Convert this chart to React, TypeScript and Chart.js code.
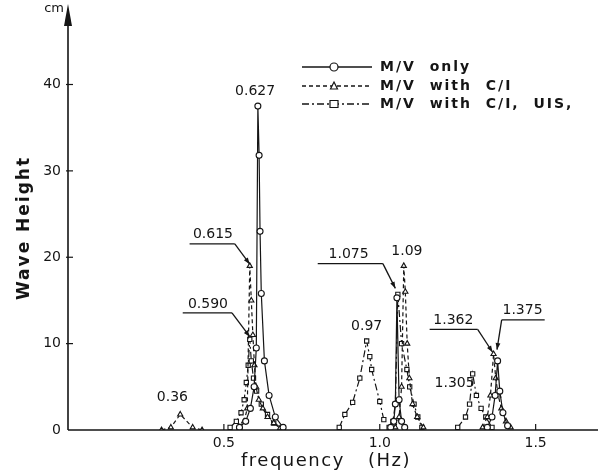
import React, { useEffect, useRef } from "react";
import { Chart, registerables } from "chart.js";

Chart.register(...registerables);

const seriesNames = ["M/V only", "M/V with C/I", "M/V with C/I, UIS,"];

// M/V only (circles, solid)
const mvOnlyFreq = [0.55, 0.57, 0.585, 0.597, 0.604, 0.609, 0.613, 0.616, 0.62, 0.63, 0.645, 0.665, 0.69, 0.8,
  1.035, 1.045, 1.05, 1.055, 1.062, 1.07, 1.08, 1.2,
  1.345, 1.36, 1.37, 1.378, 1.385, 1.395, 1.41];
const mvOnlyHeight = [0.3, 1, 2.5, 5, 9.5, 37.5, 31.8, 23, 15.8, 8, 4, 1.5, 0.3, null,
  0.3, 1, 3, 15.3, 3.5, 1, 0.3, null,
  0.3, 1.5, 4, 8, 4.5, 2, 0.5];

// M/V with C/I (triangles, dashed)
const ciFreq = [0.3, 0.33, 0.36, 0.4, 0.43, 0.5,
  0.55, 0.565, 0.575, 0.583, 0.588, 0.593, 0.598, 0.603, 0.612, 0.625, 0.64, 0.66, 0.68, 0.8,
  1.05, 1.062, 1.07, 1.077, 1.082, 1.088, 1.095, 1.105, 1.12, 1.14, 1.2,
  1.33, 1.345, 1.355, 1.365, 1.372, 1.38, 1.39, 1.405, 1.42];
const ciHeight = [0, 0.3, 1.8, 0.3, 0, null,
  0.3, 1, 2.5, 19, 15, 11, 7.5, 5, 3.5, 2.5, 1.5, 0.8, 0.2, null,
  0.3, 1.5, 5, 19, 16, 10, 6, 3, 1.5, 0.3, null,
  0.3, 1.5, 4, 8.8, 6, 4, 2.5, 1, 0.3];

// M/V with C/I, UIS (squares, dash-dot)
const uisFreq = [0.52, 0.54, 0.555, 0.565, 0.572, 0.578, 0.583, 0.588, 0.595, 0.605, 0.62, 0.64, 0.66, 0.69, 0.8,
  0.87, 0.888, 0.913, 0.936, 0.958, 0.968, 0.974, 1.0, 1.013, 1.02,
  1.03, 1.042, 1.05, 1.058, 1.07, 1.087, 1.096, 1.11, 1.122, 1.135, 1.2,
  1.25, 1.275, 1.288, 1.298, 1.31, 1.325, 1.34, 1.36];
const uisHeight = [0.3, 1, 2, 3.5, 5.5, 7.5, 10.5, 8, 6, 4.5, 3, 1.8, 0.8, 0.2, null,
  0.3, 1.8, 3.2, 6, 10.3, 8.5, 7, 3.3, 1.2, null,
  0.3, 1, 3, 15.7, 10, 7, 5, 3, 1.5, 0.3, null,
  0.3, 1.5, 3, 6.5, 4, 2.5, 1.5, 0.3];

const xTickValues = [0, 0.5, 1.0, 1.5];
const yTickValues = [0, 10, 20, 30, 40];

// peak annotations: text, label centre (data units), optional underline and leader target
const peakNotes = [
  { text: "0.627", x: 0.60, y: 39.2 },
  { text: "0.615", x: 0.465, y: 22.6, under: [0.39, 0.535], to: [0.583, 19.2] },
  { text: "0.590", x: 0.449, y: 14.6, under: [0.368, 0.526], to: [0.583, 10.8] },
  { text: "0.36", x: 0.335, y: 3.8 },
  { text: "0.97", x: 0.958, y: 12.0 },
  { text: "1.075", x: 0.9, y: 20.3, under: [0.801, 1.01], to: [1.05, 16.4] },
  { text: "1.09", x: 1.087, y: 20.7 },
  { text: "1.362", x: 1.236, y: 12.7, under: [1.16, 1.314], to: [1.362, 9.0] },
  { text: "1.375", x: 1.458, y: 13.8, under: [1.391, 1.529], to: [1.376, 9.3], fromLeft: true },
  { text: "1.305", x: 1.24, y: 5.4 },
];

const INK = "#151515";

function toPoints(xs: number[], ys: (number | null)[]) {
  return xs.map((x, i) => ({ x, y: ys[i] }));
}

function drawMarker(ctx: CanvasRenderingContext2D, kind: string, x: number, y: number) {
  ctx.save();
  ctx.fillStyle = "#fff";
  ctx.strokeStyle = INK;
  ctx.lineWidth = 1.2;
  ctx.setLineDash([]);
  ctx.beginPath();
  if (kind === "circle") ctx.arc(x, y, 4, 0, Math.PI * 2);
  else if (kind === "triangle") {
    ctx.moveTo(x, y - 4);
    ctx.lineTo(x + 3.5, y + 3);
    ctx.lineTo(x - 3.5, y + 3);
    ctx.closePath();
  } else ctx.rect(x - 4, y - 3.5, 8, 7);
  ctx.fill();
  ctx.stroke();
  ctx.restore();
}

const decorPlugin = {
  id: "decor",
  afterDraw(chart: any) {
    const { ctx, chartArea, scales } = chart;
    const xs = scales.x, ys = scales.y;
    const x0 = chartArea.left, yb = chartArea.bottom;
    ctx.save();
    ctx.strokeStyle = INK;
    ctx.fillStyle = INK;
    ctx.lineWidth = 1.6;
    // axes
    ctx.beginPath();
    ctx.moveTo(x0, yb);
    ctx.lineTo(x0, 14);
    ctx.moveTo(x0, yb);
    ctx.lineTo(chartArea.right, yb);
    ctx.stroke();
    // arrow head
    ctx.beginPath();
    ctx.moveTo(x0, 4);
    ctx.lineTo(x0 - 4, 26);
    ctx.lineTo(x0 + 4, 26);
    ctx.closePath();
    ctx.fill();
    // tick marks
    ctx.lineWidth = 1.2;
    yTickValues.forEach((v) => {
      if (v === 0) return;
      const y = ys.getPixelForValue(v);
      ctx.beginPath();
      ctx.moveTo(x0 - 2, y);
      ctx.lineTo(x0 + 5, y);
      ctx.stroke();
    });
    xTickValues.forEach((v) => {
      if (v === 0) return;
      const x = xs.getPixelForValue(v);
      ctx.beginPath();
      ctx.moveTo(x, yb);
      ctx.lineTo(x, yb - 6);
      ctx.stroke();
    });
    // cm
    ctx.font = "13px 'DejaVu Sans'";
    ctx.textAlign = "right";
    ctx.textBaseline = "middle";
    ctx.fillText("cm", x0 - 4, 9);
    // y title
    ctx.save();
    ctx.translate(25, 228);
    ctx.rotate(-Math.PI / 2);
    ctx.font = "bold 17px 'DejaVu Sans'";
    (ctx as any).letterSpacing = "2px";
    ctx.textAlign = "center";
    ctx.textBaseline = "middle";
    ctx.fillText("Wave Height", 0, 0);
    ctx.restore();
    // x title
    ctx.save();
    ctx.font = "18px 'DejaVu Sans'";
    (ctx as any).letterSpacing = "1.5px";
    ctx.textAlign = "left";
    ctx.textBaseline = "alphabetic";
    ctx.fillText("frequency", 241, 466);
    ctx.fillText("(Hz)", 368, 466);
    ctx.restore();
    // legend
    const rows = [
      { y: 67, dash: [] as number[], marker: "circle" },
      { y: 86, dash: [4, 3], marker: "triangle" },
      { y: 104, dash: [7, 3, 2, 3], marker: "rect" },
    ];
    rows.forEach((r, i) => {
      ctx.save();
      ctx.lineWidth = 1.3;
      ctx.setLineDash(r.dash);
      ctx.beginPath();
      ctx.moveTo(302, r.y);
      ctx.lineTo(372, r.y);
      ctx.stroke();
      ctx.restore();
      drawMarker(ctx, r.marker, 334, r.y);
      ctx.save();
      ctx.font = "bold 14px 'DejaVu Sans'";
      (ctx as any).letterSpacing = "2px";
      ctx.textAlign = "left";
      ctx.textBaseline = "middle";
      ctx.fillText(seriesNames[i].replace(/ /g, "  "), 380, r.y);
      ctx.restore();
    });
    // peak annotations
    ctx.font = "14px 'DejaVu Sans'";
    ctx.textAlign = "center";
    ctx.textBaseline = "middle";
    ctx.lineWidth = 1.3;
    peakNotes.forEach((n: any) => {
      const px = xs.getPixelForValue(n.x);
      const py = ys.getPixelForValue(n.y);
      ctx.fillText(n.text, px, py);
      if (n.under) {
        const ux1 = xs.getPixelForValue(n.under[0]);
        const ux2 = xs.getPixelForValue(n.under[1]);
        const uy = py + 9;
        ctx.beginPath();
        ctx.moveTo(ux1, uy);
        ctx.lineTo(ux2, uy);
        ctx.stroke();
        const sx = n.fromLeft ? ux1 : ux2;
        const tx = xs.getPixelForValue(n.to[0]);
        const ty = ys.getPixelForValue(n.to[1]);
        ctx.beginPath();
        ctx.moveTo(sx, uy);
        ctx.lineTo(tx, ty);
        ctx.stroke();
        const ang = Math.atan2(ty - uy, tx - sx);
        ctx.beginPath();
        ctx.moveTo(tx, ty);
        ctx.lineTo(tx - 7 * Math.cos(ang - 0.35), ty - 7 * Math.sin(ang - 0.35));
        ctx.lineTo(tx - 7 * Math.cos(ang + 0.35), ty - 7 * Math.sin(ang + 0.35));
        ctx.closePath();
        ctx.fill();
      }
    });
    ctx.restore();
  },
};

export default function App() {
  const ref = useRef<HTMLCanvasElement | null>(null);
  useEffect(() => {
    if (!ref.current) return;
    const common = {
      borderColor: INK,
      borderWidth: 1.2,
      pointBackgroundColor: "#fff",
      pointBorderColor: INK,
      pointBorderWidth: 1.1,
      pointRadius: 3,
      spanGaps: false,
      tension: 0,
      fill: false,
    };
    const chart = new Chart(ref.current, {
      type: "line",
      data: {
        datasets: [
          { ...common, label: seriesNames[0], data: toPoints(mvOnlyFreq, mvOnlyHeight), pointStyle: "circle" },
          { ...common, label: seriesNames[1], data: toPoints(ciFreq, ciHeight), pointStyle: "triangle", borderDash: [4, 3] },
          { ...common, label: seriesNames[2], data: toPoints(uisFreq, uisHeight), pointStyle: "rect", borderDash: [7, 3, 2, 3] },
        ] as any,
      },
      options: {
        animation: false,
        responsive: false,
        layout: { padding: { left: 0, right: 6, top: 11, bottom: 0 } },
        plugins: { legend: { display: false }, tooltip: { enabled: false } },
        scales: {
          x: {
            type: "linear",
            min: 0,
            max: 1.7,
            afterFit: (s: any) => { s.height = 41; },
            afterBuildTicks: (s: any) => { s.ticks = xTickValues.map((v) => ({ value: v })); },
            grid: { display: false, drawTicks: false },
            border: { display: false },
            ticks: {
              padding: 5,
              color: INK,
              font: { family: "'DejaVu Sans'", size: 14 },
              callback: (v: any) => (Number(v) === 0 ? "" : Number(v).toFixed(1)),
            },
          },
          y: {
            type: "linear",
            min: 0,
            max: 48,
            afterFit: (s: any) => { s.width = 68; },
            afterBuildTicks: (s: any) => { s.ticks = yTickValues.map((v) => ({ value: v })); },
            grid: { display: false, drawTicks: false },
            border: { display: false },
            ticks: {
              padding: 7,
              color: INK,
              font: { family: "'DejaVu Sans'", size: 14 },
              callback: (v: any) => String(v),
            },
          },
        },
      } as any,
      plugins: [decorPlugin],
    });
    return () => chart.destroy();
  }, []);
  return (
    <div style={{ position: "fixed", left: 0, top: 0, width: 604, height: 471, background: "#fff" }}>
      <canvas ref={ref} width={604} height={471} style={{ display: "block" }} />
    </div>
  );
}
